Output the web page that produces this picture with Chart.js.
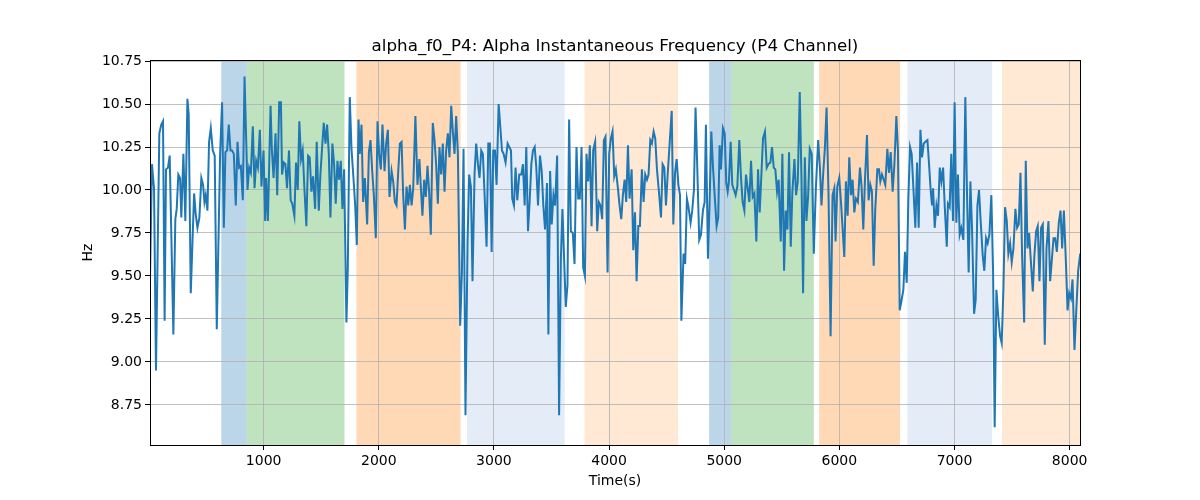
<!DOCTYPE html>
<html>
<head>
<meta charset="utf-8">
<script src="https://cdn.jsdelivr.net/npm/chart.js@4.4.1/dist/chart.umd.min.js"></script>
<style>
  body { margin: 0; background: #fff; }
</style>
</head>
<body>
<canvas id="chart" width="1200" height="500"></canvas>
<script>
// time (s) of each sample
const times = [
  13, 30, 48, 65, 94, 111, 126, 140, 152, 169, 184, 216, 233, 245, 259, 274, 285, 303, 320, 338,
  349, 367, 396, 410, 425, 442, 459, 474, 486, 497, 512, 526, 541, 558, 575, 593, 622, 639, 654, 668,
  683, 697, 712, 726, 741, 758, 773, 787, 802, 819, 834, 860, 874, 889, 906, 921, 935, 950, 967, 981,
  999, 1013, 1022, 1037, 1060, 1071, 1086, 1103, 1118, 1135, 1150,
  1160, 1174, 1189, 1203, 1220, 1235, 1249, 1267, 1281, 1296, 1310, 1325, 1339, 1354, 1371, 1386, 1400, 1415, 1429, 1447,
  1461, 1479, 1493, 1508, 1522, 1537, 1551, 1566, 1580, 1597, 1612, 1626, 1641, 1655, 1670, 1684, 1699, 1719, 1731, 1748,
  1763, 1780, 1795, 1809, 1824, 1835, 1850, 1864, 1879, 1899, 1914, 1928, 1943, 1957, 1974, 1989, 2003, 2018, 2032, 2050,
  2064, 2079, 2093, 2111, 2125, 2140, 2154, 2169, 2183, 2198, 2212, 2227, 2241, 2256, 2270, 2285, 2299,
  2318, 2336, 2353, 2365, 2379, 2394, 2408, 2423, 2437, 2452, 2469, 2484, 2498, 2513, 2527, 2542, 2556, 2571, 2585, 2600,
  2614, 2629, 2643, 2658, 2672, 2687, 2707, 2722, 2736, 2753, 2771, 2785, 2800, 2814, 2832, 2846, 2861, 2875, 2890, 2904,
  2919, 2936, 2951, 2965, 2980, 2994, 3009, 3023, 3041, 3055, 3070, 3084, 3101, 3119, 3133, 3148, 3159, 3174, 3188, 3203,
  3220, 3238, 3252, 3267, 3281, 3296, 3310, 3325, 3339, 3354, 3368, 3383, 3400, 3415, 3429, 3444, 3461, 3473,
  3488, 3502, 3517, 3531, 3549, 3566, 3581, 3595, 3610, 3624, 3639, 3653, 3668, 3685, 3700, 3717, 3732, 3746, 3761, 3775,
  3790, 3804, 3819, 3833, 3848, 3862, 3879, 3897, 3911, 3926, 3940, 3955, 3969, 3987, 4001, 4016, 4030, 4045, 4059, 4077,
  4091, 4106, 4120, 4135, 4149, 4164, 4178, 4196, 4210, 4225, 4239, 4254, 4268, 4285, 4300, 4314, 4329, 4343, 4358, 4372,
  4387, 4401, 4416, 4433, 4451, 4465, 4480, 4494, 4509, 4526, 4544, 4558, 4573, 4587, 4602, 4616, 4628,
  4647, 4661, 4676, 4690, 4708, 4722, 4737, 4751, 4766, 4783, 4798, 4815, 4830, 4841, 4859, 4873, 4888, 4902, 4919, 4934,
  4948, 4960, 4972, 4989, 5004, 5018, 5030, 5041, 5056, 5070, 5085, 5099, 5114, 5131, 5146, 5160, 5175, 5189, 5204, 5218,
  5233, 5247, 5262, 5279, 5294, 5308, 5323, 5337, 5354, 5369, 5383, 5401, 5415, 5430, 5444, 5459, 5473, 5491, 5505, 5520,
  5534, 5549, 5563, 5578, 5592, 5610, 5624, 5639, 5656, 5671, 5685, 5700, 5714, 5729, 5743, 5760, 5778,
  5782, 5796, 5816, 5831, 5845, 5860, 5874, 5889, 5906, 5924, 5941, 5956, 5967, 5982, 5999, 6014, 6028, 6043, 6057, 6072,
  6086, 6101, 6115, 6130, 6144, 6161, 6179, 6193, 6208, 6222, 6240, 6254, 6269, 6283, 6298, 6312, 6330, 6344, 6356, 6370,
  6385, 6399, 6417, 6431, 6446, 6463, 6478, 6495, 6509, 6524, 6538, 6556, 6570, 6585, 6599, 6614, 6628, 6646, 6660, 6675,
  6689, 6704, 6718, 6733, 6747, 6765, 6779, 6794, 6805, 6814, 6828, 6843, 6857, 6872, 6886, 6901, 6915, 6933,
  6943, 6958, 6972, 6987, 7001, 7016, 7030, 7045, 7059, 7077, 7094, 7109, 7123, 7138, 7152, 7170, 7184, 7199, 7213, 7228,
  7245, 7259, 7274, 7288, 7303, 7320, 7335, 7349, 7364, 7378, 7396, 7410, 7425, 7439, 7454, 7468, 7483, 7497, 7512, 7529,
  7544, 7558, 7573, 7587, 7605, 7619, 7634, 7648, 7663, 7680, 7694, 7709, 7723, 7738, 7752, 7767, 7784, 7799, 7816, 7831,
  7845, 7860, 7874, 7889, 7906, 7921, 7935, 7950, 7967, 7982, 7996, 8011, 8025, 8042, 8057, 8074, 8092
];

// instantaneous alpha frequency (Hz)
const hz = [
  9.48, 10.15, 10.01, 8.95, 10.33, 10.38, 10.40, 9.24, 10.12, 10.13, 10.20, 9.16, 9.83, 9.89, 10.09, 10.07, 9.84, 10.21, 9.82, 10.53,
  10.44, 9.40, 9.98, 9.86, 9.78, 9.84, 10.07, 10.03, 9.93, 9.97, 9.88, 10.28, 10.36, 10.23, 10.20, 9.19, 10.21, 10.51, 9.78, 10.22,
  10.23, 10.38, 10.23, 10.23, 10.21, 9.91, 10.28, 10.13, 10.14, 9.94, 10.66, 10.00, 10.13, 10.10, 10.37, 10.01, 10.17, 10.13, 10.35, 10.02,
  10.23, 9.82, 10.07, 9.82, 10.49, 10.24, 10.07, 10.33, 9.97, 10.51, 10.51,
  10.09, 10.16, 10.15, 10.01, 10.23, 9.94, 9.92, 9.85, 10.16, 10.00, 10.40, 10.18, 10.23, 10.01, 9.79, 10.20, 10.19, 9.99, 10.08, 9.89,
  10.28, 9.88, 10.09, 10.25, 10.39, 10.27, 10.38, 10.21, 9.84, 10.27, 10.15, 9.92, 10.17, 10.06, 10.17, 9.89, 10.12, 9.23, 9.55, 10.54,
  10.24, 10.07, 9.91, 9.68, 10.41, 10.21, 10.38, 9.93, 10.07, 9.80, 10.22, 10.29, 10.11, 9.97, 9.72, 10.40, 10.21, 10.12, 10.38, 10.11,
  10.27, 10.35, 9.96, 10.11, 10.05, 9.93, 9.91, 10.11, 10.27, 10.28, 9.97, 9.77, 10.02, 9.91, 10.03, 9.91, 10.01,
  10.43, 10.03, 10.18, 10.02, 9.85, 10.06, 9.96, 10.14, 9.99, 9.74, 10.39, 10.29, 10.15, 9.92, 10.25, 10.09, 10.27, 9.99, 10.23, 10.33,
  10.19, 10.49, 10.34, 10.21, 10.43, 10.21, 9.21, 9.52, 10.24, 8.69, 9.70, 10.09, 10.02, 9.47, 10.10, 10.27, 10.15, 10.07, 10.23, 10.21,
  9.97, 9.67, 10.27, 10.27, 9.64, 10.23, 10.23, 10.03, 10.50, 10.37, 10.23, 10.21, 10.16, 10.27, 10.25, 10.23, 9.95, 9.91, 10.13, 9.94,
  10.09, 10.09, 10.15, 9.91, 10.25, 9.76, 9.93, 10.15, 10.23, 10.25, 10.13, 9.91, 10.20, 10.11, 9.91, 9.77, 10.04, 9.16,
  10.11, 9.80, 9.97, 9.91, 10.20, 8.69, 9.59, 9.89, 9.59, 9.32, 9.45, 10.41, 9.76, 9.75, 9.57, 10.25, 9.95, 9.95, 10.25, 9.55,
  9.50, 10.21, 10.05, 10.26, 9.79, 10.23, 10.28, 9.76, 9.93, 9.91, 9.83, 10.29, 10.31, 9.52, 10.21, 10.30, 10.34, 10.08, 10.12, 10.01,
  9.91, 9.83, 9.97, 10.06, 9.93, 10.26, 9.95, 10.12, 9.65, 9.87, 9.47, 9.79, 9.79, 10.12, 9.93, 10.09, 10.06, 10.09, 10.29, 10.27,
  10.34, 10.30, 10.12, 9.99, 9.84, 10.15, 10.13, 9.91, 10.09, 10.27, 10.46, 9.80, 10.10, 10.18, 10.03, 9.97, 9.24,
  9.63, 9.57, 9.95, 9.90, 9.81, 9.88, 10.00, 10.48, 10.13, 9.71, 9.74, 9.88, 9.93, 10.38, 9.60, 9.93, 10.34, 10.14, 9.95, 9.79,
  9.84, 10.26, 10.12, 10.36, 10.33, 10.04, 9.99, 10.05, 10.28, 10.03, 10.00, 9.97, 10.02, 10.29, 10.07, 9.93, 9.88, 10.09, 10.01, 9.93,
  10.17, 9.96, 9.98, 9.70, 10.12, 9.87, 10.09, 10.30, 10.34, 10.13, 10.15, 10.16, 10.25, 10.13, 10.12, 9.99, 10.06, 9.70, 10.21, 9.53,
  9.88, 9.77, 10.22, 9.67, 9.99, 10.18, 9.97, 10.05, 10.57, 10.07, 9.40, 10.19, 9.82, 9.97, 10.24, 10.21, 9.63,
  9.72, 10.01, 10.29, 10.13, 9.91, 10.10, 10.24, 10.48, 9.97, 9.15, 9.97, 10.01, 9.70, 10.02, 10.07, 9.93, 9.78, 9.61, 10.05, 9.85,
  10.19, 9.97, 10.06, 9.87, 9.95, 9.93, 10.13, 10.02, 9.77, 10.05, 10.32, 9.94, 10.03, 9.99, 9.56, 9.89, 10.12, 10.12, 10.05, 10.09,
  10.06, 10.03, 10.24, 10.10, 10.22, 9.99, 10.15, 10.43, 10.23, 9.30, 9.35, 9.42, 9.64, 9.46, 9.95, 10.25, 10.21, 9.97, 9.78, 10.16,
  9.78, 10.35, 10.19, 10.27, 10.28, 10.29, 10.15, 9.99, 9.91, 10.01, 9.78, 9.91, 9.85, 10.13, 10.05, 10.13, 9.91, 9.67,
  9.92, 9.90, 10.21, 9.82, 10.51, 9.81, 10.09, 9.74, 9.78, 9.71, 10.54, 9.97, 9.52, 10.05, 9.78, 9.28, 9.36, 9.91, 10.00, 9.81,
  9.62, 9.53, 9.72, 9.69, 9.74, 9.97, 9.53, 8.62, 9.42, 9.28, 9.15, 9.11, 9.43, 9.90, 9.82, 9.63, 9.69, 9.58, 9.66, 9.89,
  9.78, 9.80, 10.10, 9.62, 9.23, 10.17, 9.66, 9.75, 9.59, 9.41, 9.62, 9.76, 9.79, 9.47, 9.78, 9.80, 9.10, 9.66, 9.82, 9.47,
  9.59, 9.72, 9.72, 9.64, 9.81, 9.88, 9.66, 9.88, 9.59, 9.30, 9.40, 9.37, 9.48, 9.07, 9.29, 9.53, 9.63
];

// shaded segments
const spanStart = [632, 851, 1806, 2767, 3786, 4869, 5059, 5825, 6591, 7413];
const spanEnd   = [851, 1702, 2710, 3614, 4599, 5059, 5778, 6527, 7327, 8100];
const spanColor = [
  'rgba(31,119,180,0.3)', 'rgba(44,160,44,0.3)', 'rgba(255,127,14,0.3)', 'rgba(120,160,220,0.2)', 'rgba(255,127,14,0.18)',
  'rgba(31,119,180,0.3)', 'rgba(44,160,44,0.3)', 'rgba(255,127,14,0.3)', 'rgba(120,160,220,0.2)', 'rgba(255,127,14,0.18)'
];

const xTicks = [1000, 2000, 3000, 4000, 5000, 6000, 7000, 8000];
const yTicks = [8.75, 9.0, 9.25, 9.5, 9.75, 10.0, 10.25, 10.5, 10.75];
const chartTitle = 'alpha_f0_P4: Alpha Instantaneous Frequency (P4 Channel)';

const spansPlugin = {
  id: 'spans',
  beforeDraw(chart) {
    const { ctx, chartArea: a, scales: { x } } = chart;
    ctx.save();
    ctx.beginPath();
    ctx.rect(a.left, a.top, a.right - a.left, a.bottom - a.top);
    ctx.clip();
    for (let i = 0; i < spanStart.length; i++) {
      const x0 = x.getPixelForValue(spanStart[i]);
      const x1 = x.getPixelForValue(spanEnd[i]);
      ctx.fillStyle = spanColor[i];
      ctx.fillRect(x0, a.top, x1 - x0, a.bottom - a.top);
    }
    ctx.restore();
  },
  afterDraw(chart) {
    const { ctx, chartArea: a } = chart;
    ctx.save();
    ctx.strokeStyle = '#000';
    ctx.lineWidth = 1;
    ctx.strokeRect(Math.round(a.left) + 0.5, Math.round(a.top) + 0.5,
                   Math.round(a.right - a.left), Math.round(a.bottom - a.top));
    // title centred over the plot area, like matplotlib
    ctx.fillStyle = '#000';
    ctx.font = '16.7px "DejaVu Sans"';
    ctx.textAlign = 'center';
    ctx.textBaseline = 'middle';
    ctx.fillText(chartTitle, (a.left + a.right) / 2, 46.4);
    ctx.restore();
  }
};

Chart.defaults.font.family = 'DejaVu Sans';
Chart.defaults.color = '#000';

new Chart(document.getElementById('chart'), {
  type: 'line',
  data: {
    datasets: [{
      data: times.map((t, i) => ({ x: t, y: hz[i] })),
      borderColor: '#1f77b4',
      borderWidth: 2,
      pointRadius: 0,
      tension: 0,
      fill: false
    }]
  },
  options: {
    responsive: false,
    animation: false,
    devicePixelRatio: 1,
    layout: { padding: { left: 0, right: 120, top: 60, bottom: 0 } },
    plugins: {
      legend: { display: false },
      tooltip: { enabled: false },
      title: { display: false }
    },
    scales: {
      x: {
        type: 'linear',
        min: 13,
        max: 8090,
        afterBuildTicks: s => { s.ticks = xTicks.map(v => ({ value: v })); },
        afterFit: s => { s.height = 55; },
        ticks: { font: { size: 14 }, padding: 3, maxRotation: 0, callback: v => String(v) },
        grid: { color: '#b0b0b0', lineWidth: 0.8, tickLength: 5, tickColor: '#000', tickWidth: 1 },
        border: { display: false },
        title: { display: true, text: 'Time(s)', font: { size: 14 }, padding: { top: 0, bottom: 10.6 } }
      },
      y: {
        type: 'linear',
        min: 8.517,
        max: 10.756,
        afterBuildTicks: s => { s.ticks = yTicks.map(v => ({ value: v })); },
        afterFit: s => { s.width = 150; },
        ticks: { font: { size: 14 }, padding: 3, callback: v => Number(v).toFixed(2) },
        grid: { color: '#b0b0b0', lineWidth: 0.8, tickLength: 5, tickColor: '#000', tickWidth: 1 },
        border: { display: false },
        title: { display: true, text: 'Hz', font: { size: 14 }, padding: { top: 79.6, bottom: 0 } }
      }
    }
  },
  plugins: [spansPlugin]
});
</script>
</body>
</html>
